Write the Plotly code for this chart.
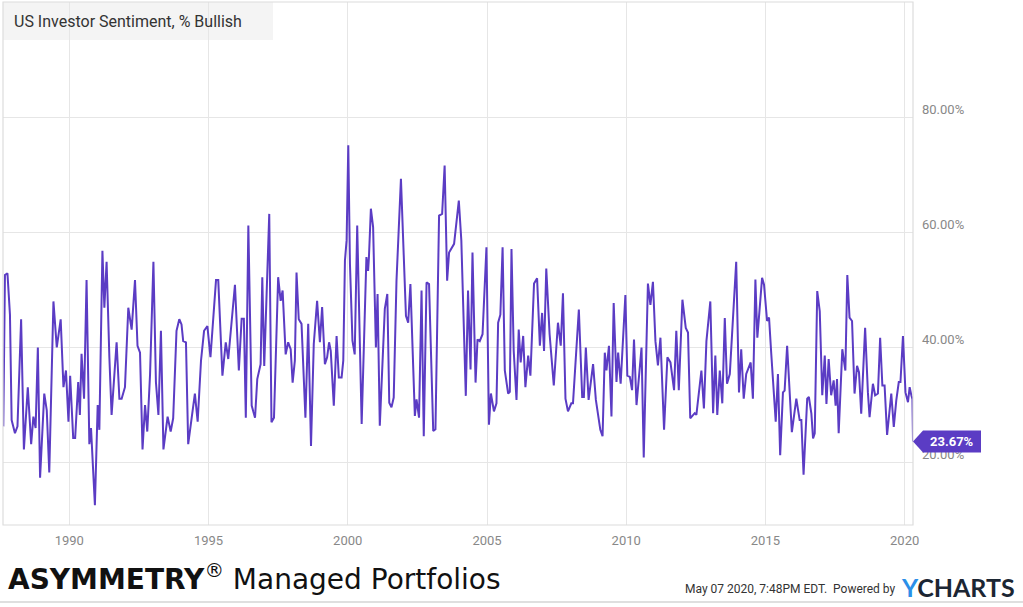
import plotly.graph_objects as go
from datetime import datetime

# ---- data (decimal year, % bullish) ----
years = [
    1987.63, 1987.69, 1987.78, 1987.87, 1987.93, 1988.05, 1988.14, 1988.27, 1988.37, 1988.51,
    1988.63, 1988.71, 1988.79, 1988.87, 1988.95, 1989.10, 1989.19, 1989.28, 1989.43, 1989.55,
    1989.69, 1989.79, 1989.88, 1989.97, 1990.03, 1990.14, 1990.21, 1990.32, 1990.38, 1990.44,
    1990.53, 1990.62, 1990.72, 1990.78, 1990.92, 1991.02, 1991.08, 1991.19, 1991.26, 1991.34,
    1991.44, 1991.52, 1991.70, 1991.80, 1991.88, 1992.00, 1992.12, 1992.24, 1992.36, 1992.45,
    1992.54, 1992.63, 1992.72, 1992.80, 1992.90, 1993.02, 1993.11, 1993.20, 1993.29, 1993.38,
    1993.53, 1993.64, 1993.73, 1993.85, 1993.95, 1994.03, 1994.09, 1994.19, 1994.27, 1994.39,
    1994.51, 1994.61, 1994.73, 1994.84, 1994.96, 1995.07, 1995.27, 1995.35, 1995.50, 1995.62,
    1995.71, 1995.95, 1996.09,
    1996.19, 1996.27, 1996.34, 1996.43, 1996.55, 1996.67, 1996.75, 1996.87, 1996.93, 1997.00,
    1997.18, 1997.26, 1997.35, 1997.50, 1997.59, 1997.66, 1997.77, 1997.86, 1997.95, 1998.02,
    1998.10, 1998.16, 1998.24, 1998.34, 1998.48, 1998.58, 1998.68, 1998.78, 1998.90, 1999.00,
    1999.08, 1999.18, 1999.26, 1999.33, 1999.39, 1999.50, 1999.60, 1999.68, 1999.78, 1999.84,
    1999.90, 1999.96, 2000.02, 2000.08, 2000.17, 2000.25, 2000.34, 2000.50, 2000.67, 2000.73,
    2000.76, 2000.83, 2000.91, 2001.01, 2001.07, 2001.15, 2001.33, 2001.42, 2001.49, 2001.57,
    2001.65, 2001.75, 2001.91, 2002.09, 2002.17, 2002.25, 2002.41, 2002.47, 2002.56, 2002.65,
    2002.73, 2002.83, 2002.92, 2003.07, 2003.15, 2003.28, 2003.39, 2003.48, 2003.57, 2003.64,
    2003.82, 2003.99, 2004.08, 2004.24, 2004.32, 2004.41, 2004.48, 2004.59, 2004.66,
    2004.74, 2004.84, 2004.98, 2005.07, 2005.14, 2005.25, 2005.34, 2005.40, 2005.48, 2005.56,
    2005.64, 2005.76, 2005.82, 2005.88, 2005.96, 2006.06, 2006.14, 2006.21, 2006.30, 2006.38,
    2006.48, 2006.56, 2006.69, 2006.80, 2006.90, 2006.98, 2007.05, 2007.13, 2007.25, 2007.40,
    2007.55, 2007.65, 2007.73, 2007.82, 2007.91, 2008.03, 2008.09, 2008.30, 2008.42, 2008.48,
    2008.55, 2008.65, 2008.81, 2008.91, 2009.07, 2009.15, 2009.23, 2009.29, 2009.38, 2009.47,
    2009.55, 2009.65, 2009.71, 2009.80, 2009.97, 2010.04, 2010.13, 2010.21, 2010.28, 2010.37,
    2010.45, 2010.55, 2010.63, 2010.78, 2010.87, 2010.96, 2011.05, 2011.14, 2011.23, 2011.36,
    2011.48, 2011.59, 2011.72, 2011.80, 2011.89, 2012.02, 2012.14, 2012.22, 2012.30, 2012.46,
    2012.52, 2012.64, 2012.70, 2012.79, 2012.88, 2013.02, 2013.12, 2013.20, 2013.27, 2013.36,
    2013.45, 2013.54, 2013.62,
    2013.72, 2013.83, 2013.95, 2014.05, 2014.13, 2014.22, 2014.31, 2014.47, 2014.55, 2014.64,
    2014.71, 2014.88, 2014.95, 2015.06, 2015.13, 2015.21, 2015.37, 2015.45, 2015.53, 2015.63,
    2015.69, 2015.78, 2015.95, 2016.11, 2016.23, 2016.29, 2016.37, 2016.50, 2016.56, 2016.65,
    2016.71, 2016.77, 2016.86, 2016.95, 2017.04, 2017.13, 2017.19, 2017.27, 2017.36, 2017.45,
    2017.52, 2017.57, 2017.63, 2017.76, 2017.87, 2017.94, 2018.02, 2018.11, 2018.20, 2018.29,
    2018.36, 2018.44, 2018.58, 2018.68, 2018.74, 2018.86, 2018.94, 2019.04, 2019.12, 2019.20,
    2019.28, 2019.37, 2019.52, 2019.61, 2019.70, 2019.79, 2019.85, 2019.94, 2020.03, 2020.12,
    2020.18, 2020.24, 2020.28, 2020.30,
]
bullish = [
    26.3, 52.6, 52.9, 45.7, 27.4, 25.1, 26.3, 44.9, 22.3, 33.1,
    23.2, 28.0, 26.0, 40.0, 17.4, 32.0, 29.1, 18.3, 48.0, 40.0,
    44.9, 33.1, 36.0, 27.1, 35.1, 24.3, 24.3, 34.0, 28.3, 38.9,
    31.1, 51.7, 23.2, 26.0, 12.6, 30.0, 25.7, 56.8, 46.9, 54.9,
    38.3, 28.3, 40.9, 31.1, 31.1, 33.1, 46.9, 43.1, 51.7, 40.3,
    39.1, 22.3, 30.0, 25.4, 35.4, 54.9, 34.0, 28.3, 42.9, 22.3,
    28.0, 25.4, 27.7, 42.9, 44.9, 44.0, 41.1, 40.9, 23.2, 27.4,
    32.0, 27.1, 37.7, 42.9, 43.7, 38.3, 51.7, 51.7, 35.1, 40.9,
    38.0, 50.9, 36.0,
    45.0, 45.0, 27.8, 61.2, 29.9, 27.8, 34.5, 37.1, 52.2, 36.8,
    63.2, 27.0, 27.8, 52.2, 48.1, 49.9, 38.8, 40.9, 39.7, 33.9,
    37.7, 53.0, 44.9, 44.1, 27.8, 44.1, 22.9, 40.6, 48.1, 40.9,
    47.0, 37.1, 38.3, 40.9, 39.4, 29.9, 42.0, 34.8, 34.8, 37.7,
    55.1, 58.6, 75.1, 54.5, 41.2, 38.8, 61.2, 26.7, 55.7, 53.3,
    55.7, 64.1, 60.9, 40.0, 49.3, 26.4, 46.7, 49.3, 30.4, 29.6,
    31.3, 51.6, 69.3, 45.5, 44.3, 51.0, 28.1, 31.0, 27.8, 49.9,
    24.6, 51.3, 51.0, 25.5, 25.8, 62.9, 63.2, 71.6, 51.6, 56.5,
    58.0, 65.5, 58.6, 31.6, 49.9, 36.2, 56.5, 33.9, 41.4,
    41.1, 42.3, 57.4, 26.6, 32.0, 28.9, 30.3, 44.3, 45.7, 57.4,
    36.0, 32.0, 32.3, 57.1, 39.4, 30.9, 43.1, 37.4, 42.0, 33.1,
    38.6, 35.1, 51.1, 52.0, 40.3, 46.0, 39.4, 53.7, 42.3, 33.4,
    44.3, 40.3, 49.4, 31.1, 28.9, 30.3, 30.3, 46.6, 31.4, 31.4,
    40.0, 30.9, 37.1, 30.9, 25.7, 24.6, 39.1, 36.0, 40.3, 28.0,
    47.7, 34.0, 39.1, 33.7, 49.1, 35.1, 34.9, 32.6, 41.4, 30.0,
    34.9, 40.0, 20.9, 51.1, 47.4, 51.4, 41.1, 36.9, 41.7, 25.7,
    38.3, 37.4, 32.6, 42.9, 32.6, 48.3, 43.4, 42.6, 27.7, 28.6,
    28.3, 34.3, 36.0, 29.4, 41.1, 48.0, 28.6, 38.6, 28.3, 36.0,
    30.3, 45.1, 33.7,
    35.4, 45.2, 54.9, 32.2, 39.7, 31.1, 35.4, 37.4, 31.1, 51.8,
    41.7, 52.1, 50.9, 44.6, 45.2, 38.9, 27.1, 35.4, 21.3, 32.2,
    32.5, 40.3, 25.3, 31.1, 27.4, 27.4, 17.9, 31.1, 31.4, 28.5,
    24.2, 25.1, 49.8, 46.3, 31.7, 38.6, 30.2, 38.0, 31.7, 34.3,
    29.9, 34.5, 25.1, 39.7, 36.0, 52.6, 45.2, 44.6, 32.0, 36.8,
    35.7, 28.5, 43.4, 32.2, 27.9, 33.7, 31.7, 32.0, 41.7, 33.4,
    33.4, 24.8, 32.0, 26.2, 30.8, 34.0, 34.0, 42.0, 32.2, 30.5,
    33.1, 31.7, 31.0, 23.67,
]
x_tick_years = [1990, 1995, 2000, 2005, 2010, 2015, 2020]
x_tick_labels = ["1990", "1995", "2000", "2005", "2010", "2015", "2020"]
y_tick_vals = [20, 40, 60, 80]
y_tick_labels = ["20.00%", "40.00%", "60.00%", "80.00%"]
x_range_years = [1987.62, 2020.30]
y_range = [9.17, 100]
last_label = "23.67%"


def dec_to_date(y):
    yr = int(y)
    start = datetime(yr, 1, 1)
    end = datetime(yr + 1, 1, 1)
    return start + (end - start) * (y - yr)


dates = [dec_to_date(v) for v in years]
LINE = "#5b3cc4"
GRID = "#e6e6e6"
FONT = "Roboto"

fig = go.Figure()
fig.add_trace(go.Scatter(
    x=dates, y=bullish, mode="lines",
    line=dict(color=LINE, width=2), hoverinfo="skip", showlegend=False,
))

W, H = 1023, 607
L, R, T, B = 3, 110, 2, 82
pw, ph = W - L - R, H - T - B


def px(xp):
    return (xp - L) / pw


def py(yp):
    return (H - B - yp) / ph


fig.update_layout(
    width=W, height=H,
    margin=dict(l=L, r=R, t=T, b=B),
    paper_bgcolor="white", plot_bgcolor="white",
    font=dict(family=FONT, color="#888888", size=13),
    xaxis=dict(
        type="date",
        range=[dec_to_date(x_range_years[0]), dec_to_date(x_range_years[1])],
        tickvals=[datetime(y, 1, 1) for y in x_tick_years],
        ticktext=x_tick_labels,
        showgrid=True, gridcolor=GRID, gridwidth=1,
        zeroline=False, showline=False, ticks="",
        tickfont=dict(size=13, color="#888888", family=FONT),
        ticklabelstandoff=6,
    ),
    yaxis=dict(
        side="right",
        range=y_range,
        tickvals=y_tick_vals, ticktext=y_tick_labels,
        showgrid=True, gridcolor=GRID, gridwidth=1,
        zeroline=False, showline=False, ticks="",
        tickfont=dict(size=13, color="#888888", family=FONT),
        ticklabelshift=-8, ticklabelstandoff=8,
    ),
)

shapes = []
# plot frame
shapes.append(dict(type="rect", xref="paper", yref="paper", x0=0, x1=1, y0=0, y1=1,
                   line=dict(color="#dcdcdc", width=1.2), layer="above"))
# title box
shapes.append(dict(type="rect", xref="paper", yref="paper", x0=0, x1=px(273), y0=py(40), y1=1,
                   fillcolor="#f4f4f4", line=dict(width=0), layer="below"))
# bottom separator line
shapes.append(dict(type="line", xref="paper", yref="paper", x0=px(0), x1=px(W), y0=py(602), y1=py(602),
                   line=dict(color="#d4d4d4", width=1.5)))
# last-value badge (arrow shape)
lv = bullish[-1]
half = 11 / (ph / (y_range[1] - y_range[0]))
x_tip, x_body, x_end = 1.0, px(923), px(981)
path = (f"M {x_tip} {lv} L {x_body} {lv + half} L {x_end} {lv + half} "
        f"L {x_end} {lv - half} L {x_body} {lv - half} Z")
shapes.append(dict(type="path", xref="paper", yref="y", path=path,
                   fillcolor=LINE, line=dict(color=LINE, width=0), layer="above"))
fig.update_layout(shapes=shapes)

ann = []
ann.append(dict(xref="paper", yref="paper", x=px(12), y=py(21), xanchor="left", yanchor="middle",
                text="US Investor Sentiment, % Bullish", showarrow=False,
                font=dict(family=FONT, size=16, color="#333333")))
ann.append(dict(xref="paper", yref="y", x=px(952), y=lv, xanchor="center", yanchor="middle",
                text=f"<b>{last_label}</b>", showarrow=False,
                font=dict(family=FONT, size=13, color="white")))
ann.append(dict(xref="paper", yref="paper", x=px(6), y=py(577), xanchor="left", yanchor="middle",
                text="<b>ASYMMETRY</b><sup>®</sup> Managed Portfolios", showarrow=False,
                font=dict(family="DejaVu Sans", size=28, color="#111111")))
ann.append(dict(xref="paper", yref="paper", x=px(898), y=py(589), xanchor="right", yanchor="middle",
                text="May 07 2020, 7:48PM EDT.  Powered by", showarrow=False,
                font=dict(family=FONT, size=12, color="#333333")))
ann.append(dict(xref="paper", yref="paper", x=px(899), y=py(587), xanchor="left", yanchor="middle",
                text="<b><span style='color:#2b8fe8'>Y</span>CHARTS</b>", showarrow=False,
                font=dict(family="Lato", size=25, color="#1c2633")))
fig.update_layout(annotations=ann)

fig.write_html("out.html", config={"displayModeBar": False},
               post_script="document.body.style.margin='0';")
